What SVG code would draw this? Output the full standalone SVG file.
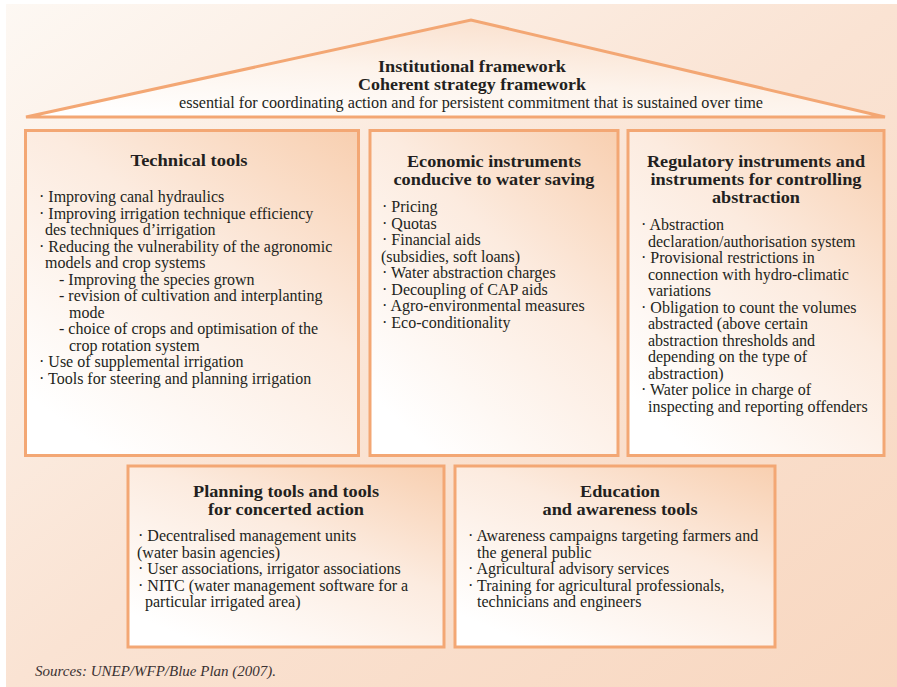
<svg xmlns="http://www.w3.org/2000/svg" width="897" height="687" viewBox="0 0 897 687">
<defs>
<linearGradient id="bg" x1="0" y1="0" x2="1" y2="1">
<stop offset="0" stop-color="#fdf8f3"/>
<stop offset="0.5" stop-color="#fae3d3"/>
<stop offset="1" stop-color="#f8d7c0"/>
</linearGradient>
<linearGradient id="roofg" x1="0.15" y1="1" x2="0.85" y2="0">
<stop offset="0" stop-color="#ffffff"/>
<stop offset="0.45" stop-color="#fdf3eb"/>
<stop offset="1" stop-color="#f9dbc5"/>
</linearGradient>
<linearGradient id="boxg" x1="1" y1="0" x2="0.25" y2="1">
<stop offset="0" stop-color="#f8cfb0"/>
<stop offset="0.45" stop-color="#fcebdf"/>
<stop offset="1" stop-color="#ffffff"/>
</linearGradient>
</defs>
<style>
.box{fill:url(#boxg);stroke:#f3a774;stroke-width:3}
.t{font-family:"Liberation Serif","Times New Roman",serif;font-size:16px;fill:#231f20}
.h{font-family:"Liberation Serif","Times New Roman",serif;font-size:17px;font-weight:bold;fill:#231f20;text-anchor:middle}
.r{font-family:"Liberation Serif","Times New Roman",serif;font-size:17px;font-weight:bold;fill:#231f20;text-anchor:middle}
.src{font-family:"Liberation Serif","Times New Roman",serif;font-size:15px;font-style:italic;fill:#3a3232}
</style>
<rect x="6" y="4" width="891" height="683" fill="url(#bg)"/>
<g id="roof">
<polygon points="26,117 471,20 885,117" fill="url(#roofg)" stroke="#f3a774" stroke-width="3"/>
<text class="r" x="472" y="72" textLength="188" lengthAdjust="spacingAndGlyphs">Institutional framework</text>
<text class="r" x="472" y="90" textLength="228" lengthAdjust="spacingAndGlyphs">Coherent strategy framework</text>
<text class="t" x="471" y="108" text-anchor="middle" font-size="15" textLength="584" lengthAdjust="spacingAndGlyphs">essential for coordinating action and for persistent commitment that is sustained over time</text>
</g>
<g id="technical-tools">
<rect class="box" x="25.5" y="130.5" width="333" height="325"/>
<text class="h" x="189" y="166" textLength="117" lengthAdjust="spacingAndGlyphs">Technical tools</text>
<text class="t" x="39" y="202">· Improving canal hydraulics</text>
<text class="t" x="39" y="218.5">· Improving irrigation technique efficiency</text>
<text class="t" x="45" y="235">des techniques d’irrigation</text>
<text class="t" x="39" y="251.5">· Reducing the vulnerability of the agronomic</text>
<text class="t" x="45" y="268">models and crop systems</text>
<text class="t" x="59" y="284.5">- Improving the species grown</text>
<text class="t" x="59" y="301">- revision of cultivation and interplanting</text>
<text class="t" x="69" y="317.5">mode</text>
<text class="t" x="59" y="334">- choice of crops and optimisation of the</text>
<text class="t" x="69" y="350.5">crop rotation system</text>
<text class="t" x="39" y="367">· Use of supplemental irrigation</text>
<text class="t" x="39" y="383.5">· Tools for steering and planning irrigation</text>
</g>
<g id="economic-instruments">
<rect class="box" x="370" y="130.5" width="248" height="325"/>
<text class="h" x="494" y="167" textLength="174" lengthAdjust="spacingAndGlyphs">Economic instruments</text>
<text class="h" x="494" y="185" textLength="201" lengthAdjust="spacingAndGlyphs">conducive to water saving</text>
<text class="t" x="382" y="212">· Pricing</text>
<text class="t" x="382" y="228.5">· Quotas</text>
<text class="t" x="382" y="245">· Financial aids</text>
<text class="t" x="381" y="261.5">(subsidies, soft loans)</text>
<text class="t" x="382" y="278">· Water abstraction charges</text>
<text class="t" x="382" y="294.5">· Decoupling of CAP aids</text>
<text class="t" x="382" y="311">· Agro-environmental measures</text>
<text class="t" x="382" y="327.5">· Eco-conditionality</text>
</g>
<g id="regulatory-instruments">
<rect class="box" x="628" y="130.5" width="256" height="325"/>
<text class="h" x="756" y="167" textLength="218" lengthAdjust="spacingAndGlyphs">Regulatory instruments and</text>
<text class="h" x="756" y="185" textLength="211" lengthAdjust="spacingAndGlyphs">instruments for controlling</text>
<text class="h" x="756" y="203" textLength="88" lengthAdjust="spacingAndGlyphs">abstraction</text>
<text class="t" x="641" y="230">· Abstraction</text>
<text class="t" x="648" y="246.5">declaration/authorisation system</text>
<text class="t" x="641" y="263">· Provisional restrictions in</text>
<text class="t" x="648" y="279.5">connection with hydro-climatic</text>
<text class="t" x="648" y="296">variations</text>
<text class="t" x="641" y="312.5">· Obligation to count the volumes</text>
<text class="t" x="648" y="329">abstracted (above certain</text>
<text class="t" x="648" y="345.5">abstraction thresholds and</text>
<text class="t" x="648" y="362">depending on the type of</text>
<text class="t" x="648" y="378.5">abstraction)</text>
<text class="t" x="641" y="395">· Water police in charge of</text>
<text class="t" x="648" y="411.5">inspecting and reporting offenders</text>
</g>
<g id="planning-tools">
<rect class="box" x="128" y="466" width="316" height="181"/>
<text class="h" x="286" y="497" textLength="186" lengthAdjust="spacingAndGlyphs">Planning tools and tools</text>
<text class="h" x="286" y="515" textLength="156" lengthAdjust="spacingAndGlyphs">for concerted action</text>
<text class="t" x="138" y="541">· Decentralised management units</text>
<text class="t" x="137" y="557.5">(water basin agencies)</text>
<text class="t" x="138" y="574">· User associations, irrigator associations</text>
<text class="t" x="138" y="590.5">· NITC (water management software for a</text>
<text class="t" x="145" y="607">particular irrigated area)</text>
</g>
<g id="education-tools">
<rect class="box" x="455" y="466" width="320" height="181"/>
<text class="h" x="620" y="497" textLength="80" lengthAdjust="spacingAndGlyphs">Education</text>
<text class="h" x="620" y="515" textLength="155" lengthAdjust="spacingAndGlyphs">and awareness tools</text>
<text class="t" x="468" y="541">· Awareness campaigns targeting farmers and</text>
<text class="t" x="477" y="557.5">the general public</text>
<text class="t" x="468" y="574">· Agricultural advisory services</text>
<text class="t" x="468" y="590.5">· Training for agricultural professionals,</text>
<text class="t" x="477" y="607">technicians and engineers</text>
</g>
<text class="src" x="35" y="676">Sources: UNEP/WFP/Blue Plan (2007).</text>
</svg>
